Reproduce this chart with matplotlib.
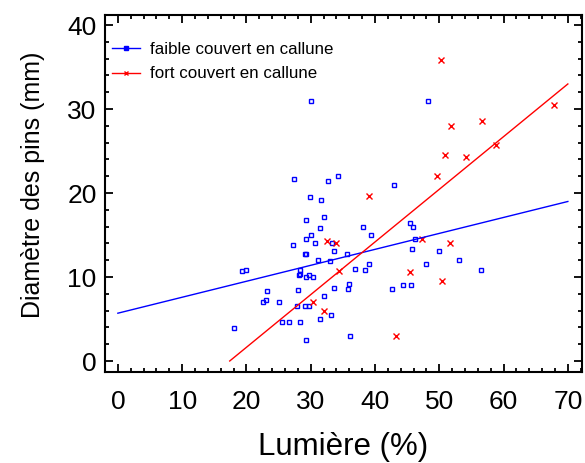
import matplotlib
matplotlib.use("Agg")
import matplotlib.pyplot as plt
from matplotlib.ticker import MultipleLocator
from matplotlib.lines import Line2D
import numpy as np

plt.rcParams['font.family'] = ['Liberation Sans', 'DejaVu Sans']

# faible couvert en callune (blue squares)
faible_x = [18.0, 19.3, 20.0, 27.4, 32.7, 34.3, 42.9, 29.9, 31.6, 29.3, 32.0, 31.5,
            30.0, 29.3, 30.7, 27.2, 33.3, 33.6, 29.1, 29.2, 35.6, 38.2, 39.3, 31.2,
            33.0, 36.9, 38.4, 39.0, 28.4, 28.3, 28.2, 29.2, 29.8, 30.4, 23.2, 28.0,
            33.6, 36.0, 35.8, 42.7, 23.0, 22.6, 25.0, 32.0, 27.9, 29.1, 29.8, 33.1,
            31.5, 25.5, 26.6, 28.3, 36.1, 29.3, 30.1, 48.2, 45.4, 45.9, 46.2, 45.8,
            50.0, 53.0, 47.9, 56.5, 44.3, 45.6]
faible_y = [3.9, 10.7, 10.8, 21.7, 21.4, 22.0, 21.0, 19.5, 19.2, 16.8, 17.1, 15.8,
            15.0, 14.5, 14.0, 13.8, 14.0, 13.1, 12.8, 12.7, 12.7, 16.0, 15.0, 12.0,
            11.9, 11.0, 10.9, 11.5, 10.8, 10.4, 10.2, 10.0, 10.2, 10.0, 8.4, 8.5,
            8.7, 9.2, 8.6, 8.6, 7.3, 7.0, 7.0, 7.8, 6.5, 6.6, 6.5, 5.5,
            5.0, 4.7, 4.6, 4.6, 3.0, 2.5, 31.0, 31.0, 16.4, 16.0, 14.5, 13.3,
            13.1, 12.0, 11.5, 10.9, 9.0, 9.1]

# fort couvert en callune (red crosses)
fort_x = [50.2, 51.8, 56.7, 67.8, 58.8, 50.9, 54.1, 49.6, 39.1, 32.6, 33.9, 34.4,
          30.3, 32.1, 43.3, 47.3, 51.7, 45.5, 50.4]
fort_y = [35.8, 28.0, 28.6, 30.5, 25.7, 24.5, 24.3, 22.0, 19.7, 14.3, 14.0, 10.7,
          7.0, 6.0, 3.0, 14.5, 14.0, 10.6, 9.5]

# regression lines: (intercept, slope, x start, x end)
faible_fit = [5.7, 0.19, 0.0, 70.0]
fort_fit = [-10.9, 0.627, 17.4, 70.0]

labels = ["faible couvert en callune", "fort couvert en callune"]

fig = plt.figure(figsize=(5.85, 4.63), dpi=100)
ax = fig.add_axes([105/585, 1-372/463, (582-105)/585, (372-15)/463])

blue = '#0000FF'
red = '#FF0000'

ax.plot(faible_x, faible_y, linestyle='none', marker='s', markersize=3.3,
        markerfacecolor='none', markeredgecolor=blue, markeredgewidth=1.0)
ax.plot(fort_x, fort_y, linestyle='none', marker='x', markersize=4.2,
        color=red, markeredgewidth=1.0)

xb = np.array(faible_fit[2:])
ax.plot(xb, faible_fit[0] + faible_fit[1]*xb, color=blue, lw=1.0)
xr = np.array(fort_fit[2:])
ax.plot(xr, fort_fit[0] + fort_fit[1]*xr, color=red, lw=1.0)

ax.set_xlim(-2.0, 72.2)
ax.set_ylim(-1.3, 41.2)
ax.xaxis.set_major_locator(MultipleLocator(10))
ax.xaxis.set_minor_locator(MultipleLocator(2))
ax.yaxis.set_major_locator(MultipleLocator(10))
ax.yaxis.set_minor_locator(MultipleLocator(2))
ax.tick_params(which='both', direction='in', top=True, right=True, width=1.3,
               labelsize=19, colors='black')
ax.tick_params(which='major', length=6)
ax.tick_params(which='minor', length=3)
ax.tick_params(axis='x', which='major', pad=13)
ax.tick_params(axis='y', which='major', pad=6)
for s in ax.spines.values():
    s.set_linewidth(1.5)

ax.set_xlabel("Lumière (%)", fontsize=22.5, labelpad=13)
ax.set_ylabel("Diamètre des pins (mm)", fontsize=18)
ax.yaxis.set_label_coords(-0.126, 0.525)

handles = [
    Line2D([], [], color=blue, lw=1.0, marker='s', markersize=2.5,
           markerfacecolor=blue, markeredgecolor=blue),
    Line2D([], [], color=red, lw=1.0, marker='x', markersize=3.5,
           markeredgewidth=1.0),
]
ax.legend(handles, labels, loc='upper left', bbox_to_anchor=(0.0147, 0.924),
          frameon=False, fontsize=12.2, numpoints=1, handlelength=1.65,
          handletextpad=0.6, labelspacing=0.55, borderaxespad=0.0, borderpad=0.0)

fig.savefig("out.png", dpi=100)
